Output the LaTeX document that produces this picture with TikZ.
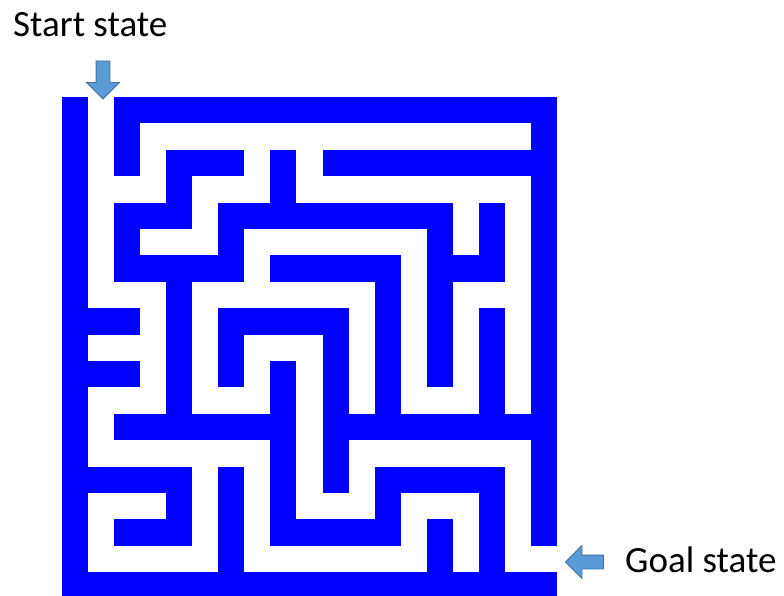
\documentclass[tikz,border=0pt]{standalone}
\usepackage{fontspec}
\setmainfont{Carlito}
\usetikzlibrary{shapes.arrows}
\definecolor{mazeblue}{RGB}{0,0,255}
\definecolor{arrowfill}{RGB}{91,155,213}
\definecolor{arrowline}{RGB}{65,113,156}
\tikzset{
  wallbox/.style={fill=mazeblue},
  hintarrow/.style={single arrow, draw=arrowline, fill=arrowfill, line width=0.8pt, minimum height=38pt, single arrow head extend=9.5pt, inner sep=6.5pt},
  statelbl/.style={font=\fontsize{37}{44}\selectfont, inner sep=0pt}
}

\begin{document}
\begin{tikzpicture}[x=1pt, y=-1pt]
  \useasboundingbox (0,0) rectangle (784,596);
  \begin{scope}[shift={(62,97)}, x=26.05pt, y=-26.4pt]
    \foreach \ca/\ra/\cb/\rb in {0/0/0/18, 2/0/18/0, 18/0/18/16, 0/18/18/18,
        2/0/2/2, 4/2/6/2, 4/2/4/4, 8/2/8/4, 10/2/17/2,
        2/4/4/4, 6/4/14/4, 16/4/16/6, 2/4/2/6, 6/4/6/6, 14/4/14/10,
        2/6/6/6, 8/6/12/6, 14/6/16/6, 4/6/4/11, 12/6/12/11, 16/8/16/11,
        1/8/2/8, 6/8/10/8, 6/8/6/10, 10/8/10/14,
        1/10/2/10, 8/10/8/16,
        2/12/8/12, 10/12/18/12,
        1/14/4/14, 12/14/16/14,
        4/14/4/16, 6/14/6/18, 12/14/12/16, 16/14/16/17,
        2/16/4/16, 8/16/12/16, 14/16/14/18}
      \fill[wallbox] (\ca,\ra) rectangle ({\cb+1},{\rb+1});
  \end{scope}
  \node[hintarrow, shape border rotate=270] (startarrow) at (103,76.5) {};
  \node[hintarrow, shape border rotate=180] (goalarrow) at (588,562) {};
  \node[statelbl, anchor=base west] (startlbl) at (13,37) {Start state};
  \node[statelbl, anchor=base west] (goallbl) at (625,572) {Goal state};
\end{tikzpicture}
\end{document}
